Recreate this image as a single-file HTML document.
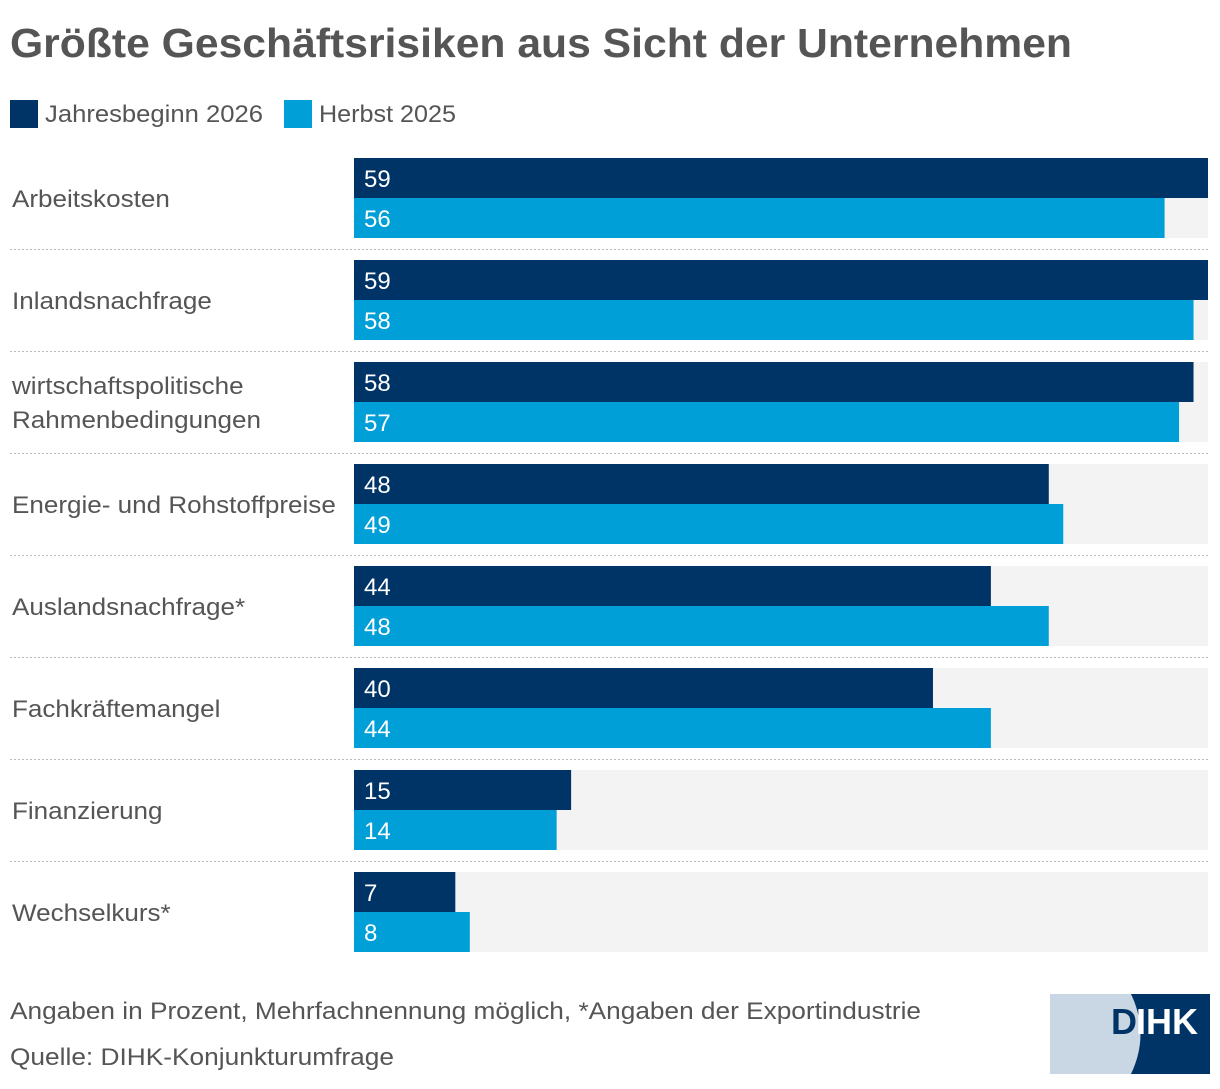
<!DOCTYPE html>
<html><head><meta charset="utf-8"><style>
body{margin:0;width:1220px;height:1084px;background:#fff;font-family:"Liberation Sans",sans-serif;overflow:hidden}
svg text{font-family:"Liberation Sans",sans-serif}
</style></head><body>
<svg id="chart" width="1220" height="1084">
<text x="10" y="57" font-size="41" font-weight="bold" fill="#555" textLength="1062" lengthAdjust="spacingAndGlyphs">Größte Geschäftsrisiken aus Sicht der Unternehmen</text>
<g>
<rect x="10" y="100" width="28" height="28" fill="#003366"/>
<text x="45" y="122" font-size="24" fill="#555" textLength="218" lengthAdjust="spacingAndGlyphs">Jahresbeginn 2026</text>
<rect x="284" y="100" width="28" height="28" fill="#009fd7"/>
<text x="319" y="122" font-size="24" fill="#555" textLength="137" lengthAdjust="spacingAndGlyphs">Herbst 2025</text>
</g>
<g id="bars"></g>
<text x="10" y="1019" font-size="24" fill="#555" textLength="911" lengthAdjust="spacingAndGlyphs">Angaben in Prozent, Mehrfachnennung möglich, *Angaben der Exportindustrie</text>
<text x="10" y="1065" font-size="24" fill="#555" textLength="384" lengthAdjust="spacingAndGlyphs">Quelle: DIHK-Konjunkturumfrage</text>
<g>
<rect x="1050" y="994" width="160" height="80" fill="#c9d6e3"/>
<path d="M1131 994 Q1150 1034 1131 1074 L1210 1074 L1210 994 Z" fill="#003366"/>
<text x="1111" y="1034" font-size="36" font-weight="bold" fill="#003366">D</text>
<text x="1136" y="1034" font-size="36" font-weight="bold" fill="#fff">IHK</text>
</g>
</svg>
<script>
const categories=[["Arbeitskosten"],["Inlandsnachfrage"],["wirtschaftspolitische","Rahmenbedingungen"],["Energie- und Rohstoffpreise"],["Auslandsnachfrage*"],["Fachkräftemangel"],["Finanzierung"],["Wechselkurs*"]];
const series2026=[59,59,58,48,44,40,15,7];
const series2025=[56,58,57,49,48,44,14,8];
const maxVal=59;
const ns="http://www.w3.org/2000/svg";
const g=document.getElementById('bars');
const x0=354,x1=1208,top0=158,step=102,bh=40;
const xs=v=>x0+(x1-x0)*v/maxVal;
function mk(t,a){const e=document.createElementNS(ns,t);for(const k in a)e.setAttribute(k,a[k]);g.appendChild(e);return e;}
categories.forEach((c,i)=>{
 const y=top0+i*step;
 const bg=mk('rect',{x:x0,y:y,width:x1-x0,height:2*bh,fill:'#f3f3f3'});
 
 
 if(i>0){const l=mk('line',{x1:10,x2:1208,y1:y-10.5,y2:y-10.5,stroke:'#bbb','stroke-dasharray':'2,2'});
 
 }
 [[series2026,'#003366'],[series2025,'#009fd7']].forEach((s,j)=>{
  const v=s[0][i];
  const r=mk('rect',{x:x0,y:y+j*bh,width:xs(v)-x0,height:bh,fill:s[1]});
  
  
  const t=mk('text',{x:x0+10,y:y+j*bh+29,'font-size':24,fill:'#fff'});
  t.textContent=v;
  
  
 });
 const n=c.length;
 c.forEach((line,k)=>{
  const t=mk('text',{x:12,y:y+49+(k-(n-1)/2)*34,'font-size':24,fill:'#555'});
  t.textContent=line;
  
  
  const w=t.getComputedTextLength();
  t.setAttribute('textLength',(w*1.085).toFixed(1));
  t.setAttribute('lengthAdjust','spacingAndGlyphs');
 });
});
</script>
</body></html>
